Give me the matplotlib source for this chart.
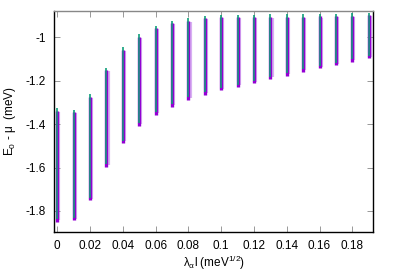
import numpy as np
import matplotlib
matplotlib.use("Agg")
import matplotlib.pyplot as plt

plt.rcParams["font.family"] = ["Liberation Sans", "DejaVu Sans"]

# coupling values (meV^1/2)
lam = [0.00, 0.01, 0.02, 0.03, 0.04, 0.05, 0.06, 0.07, 0.08, 0.09,
       0.10, 0.11, 0.12, 0.13, 0.14, 0.15, 0.16, 0.17, 0.18, 0.19]
# top and bottom of the E0 - mu spread (meV)
e_top = [-1.339, -1.345, -1.275, -1.152, -1.058, -0.997, -0.959, -0.936, -0.924, -0.913,
         -0.908, -0.908, -0.908, -0.907, -0.906, -0.905, -0.904, -0.903, -0.902, -0.899]
e_bot = [-1.851, -1.843, -1.751, -1.598, -1.488, -1.408, -1.356, -1.319, -1.288, -1.265,
         -1.245, -1.230, -1.212, -1.193, -1.177, -1.158, -1.143, -1.129, -1.114, -1.097]

xticks = [0, 0.02, 0.04, 0.06, 0.08, 0.1, 0.12, 0.14, 0.16, 0.18]
xtick_labels = ["0", "0.02", "0.04", "0.06", "0.08", "0.1", "0.12", "0.14", "0.16", "0.18"]
yticks = [-1.8, -1.6, -1.4, -1.2, -1.0]
ytick_labels = ["-1.8", "-1.6", "-1.4", "-1.2", "-1"]

lam = np.array(lam)
e_top = np.array(e_top)
e_bot = np.array(e_bot)

fig = plt.figure(figsize=(3.99, 2.79), dpi=100)
ax = fig.add_axes([0.1353, 0.1685, 0.8003, 0.7921])

# light halo, purple spread, green core
ax.vlines(lam + 0.0007, e_bot + 0.008, e_top - 0.005, color="#d8b0f2", linewidth=3.0, zorder=1)
ax.vlines(lam, e_bot, e_top, color="#9400d3", linewidth=2.4, zorder=2)
ax.vlines(lam, e_bot + 0.012, e_top + 0.012, color="#0f9e7a", linewidth=1.2, zorder=3)
ax.vlines(lam - 0.0002, e_bot + 0.03, e_top, color="#3f6f9a", linewidth=0.8, alpha=0.6, zorder=4)

ax.set_xlim(-0.002, 0.1928)
ax.set_ylim(-1.897, -0.879)
ax.set_xticks(xticks)
ax.set_xticklabels(xtick_labels)
ax.set_yticks(yticks)
ax.set_yticklabels(ytick_labels)
ax.tick_params(direction="in", length=4, width=0.6, color="#888888",
               labelsize=8.5, top=True, right=True, pad=6)

for side in ["left", "bottom", "right"]:
    ax.spines[side].set_color("black")
    ax.spines[side].set_linewidth(1.0)
ax.spines["top"].set_color("#888888")
ax.spines["top"].set_linewidth(1.0)

ax.set_xlabel(r"λ$_\mathregular{α}$l (meV$^\mathregular{1/2}$)", fontsize=8.5)
ax.xaxis.set_label_coords(0.5, -0.1)
ax.set_ylabel(r"E$_\mathregular{0}$ - μ  (meV)", fontsize=8.5)
ax.yaxis.set_label_coords(-0.112, 0.5)

fig.savefig("out.png", dpi=100)
